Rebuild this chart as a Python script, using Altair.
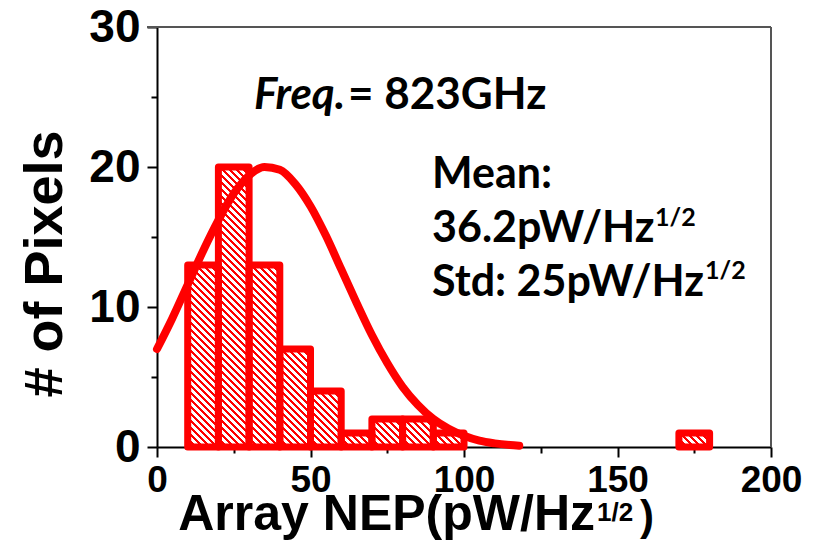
import altair as alt
import pandas as pd

# ---- data ----
bin_start = [10, 20, 30, 40, 50, 60, 70, 80, 90, 170]
bin_end = [20, 30, 40, 50, 60, 70, 80, 90, 100, 180]
counts = [13, 20, 13, 7, 4, 1, 2, 2, 1, 1]

fit_x = [0, 5, 10, 15, 20, 25, 30, 35, 40, 45, 50, 55, 60, 65, 70, 75, 80,
         85, 90, 95, 100, 105, 110, 115, 118]
fit_y = [7.0, 9.2, 11.6, 14.0, 16.2, 18.1, 19.4, 20.0, 19.8, 18.8, 17.2,
         15.1, 12.7, 10.3, 8.0, 6.0, 4.3, 3.0, 2.0, 1.3, 0.8, 0.45, 0.26,
         0.14, 0.09]

x_ticks = [0, 25, 50, 75, 100, 125, 150, 175, 200]
y_ticks = [0, 5, 10, 15, 20, 25, 30]

# ---- layout ----
W, H = 614, 420
X_DOM, Y_DOM = [0, 200], [0, 30]
RED = "#ff0000"
PL, PT = 149, 19  # plot origin on page = (8+PL, 8+PT) = (157, 27)

bars = pd.DataFrame({"x": bin_start, "x2": bin_end, "y": counts})
rows = []
for s, e, c in zip(bin_start, bin_end, counts):
    for j in range(c):
        rows.append({"x": s, "x2": e, "y": j, "y2": j + 1})
seg = pd.DataFrame(rows)
fit = pd.DataFrame({"x": fit_x, "y": fit_y})

# hatch gradient (diagonal stripes), one unit cell = one bin wide, one count high
cw = W * 10 / (X_DOM[1] - X_DOM[0])
ch = H / (Y_DOM[1] - Y_DOM[0])
D = cw + ch
kk = D / (cw * cw + ch * ch)
period = 7.0
red_frac = 0.42
stops = []
p = 0.0
while p < D:
    a = p / D
    b = min((p + period * red_frac) / D, 1.0)
    c2 = min((p + period) / D, 1.0)
    stops += [{"offset": a, "color": RED}, {"offset": b, "color": RED},
              {"offset": b, "color": "#ffffff"}, {"offset": c2, "color": "#ffffff"}]
    p += period
hatch_fill = {"gradient": "linear", "x1": 0, "y1": 1,
              "x2": kk * cw, "y2": 1 - kk * ch, "stops": stops}

xscale = alt.Scale(domain=X_DOM, nice=False, zero=False)
yscale = alt.Scale(domain=Y_DOM, nice=False, zero=False)

xaxis = alt.Axis(
    values=x_ticks, title=None, grid=False,
    labelExpr="datum.value % 50 === 0 ? datum.label : ''",
    tickSize={"condition": {"test": "datum.value % 50 === 0", "value": 10}, "value": 6},
    tickColor="black", tickWidth=2, domainColor="black", domainWidth=2,
    labelFont="Liberation Sans", labelFontWeight="bold", labelFontSize=37,
    labelColor="black", labelPadding=5, labelOverlap=False, labelFlush=False,
    labelBound=False,
)
yaxis = alt.Axis(
    values=y_ticks, title=None, grid=False,
    labelExpr="datum.value % 10 === 0 ? datum.label : ''",
    tickSize={"condition": {"test": "datum.value % 10 === 0", "value": 10}, "value": 6},
    tickColor="black", tickWidth=2, domainColor="black", domainWidth=2,
    labelFont="Liberation Sans", labelFontWeight="bold", labelFontSize=46,
    labelColor="black", labelPadding=7, labelOverlap=False, labelFlush=False,
    labelBound=False,
)


def X(f):
    return alt.X(f, type="quantitative", scale=xscale, axis=xaxis)


def Y(f):
    return alt.Y(f, type="quantitative", scale=yscale, axis=yaxis)


hatch = alt.Chart(seg).mark_rect(fill=hatch_fill).encode(
    x=X("x"), x2="x2", y=Y("y"), y2="y2")

outline = alt.Chart(bars).mark_rect(
    fill="transparent", stroke=RED, strokeWidth=7, strokeJoin="round"
).encode(x=X("x"), x2="x2", y=Y("y"), y2=alt.datum(0))

curve = alt.Chart(fit).mark_line(
    color=RED, strokeWidth=8, strokeCap="round", strokeJoin="round",
    interpolate="monotone"
).encode(x=X("x"), y=Y("y"))

# plot frame (top and right edges)
frame_top = alt.Chart(pd.DataFrame({"k": [0]})).mark_rule(
    color="#555555", strokeWidth=2
).encode(x=alt.value(-10), x2=alt.value(W), y=alt.value(0))
frame_right = alt.Chart(pd.DataFrame({"k": [0]})).mark_rule(
    color="#555555", strokeWidth=2
).encode(x=alt.value(W), y=alt.value(0), y2=alt.value(H))


def label(text, px, py, size, font, style="normal", align="left", angle=0):
    return alt.Chart(pd.DataFrame({"t": [text]})).mark_text(
        align=align, baseline="alphabetic", font=font, fontSize=size,
        fontWeight="bold", fontStyle=style, angle=angle, color="black"
    ).encode(x=alt.value(px - 8 - PL), y=alt.value(py - 8 - PT), text="t:N")


ANN = "Lato"
AX = "Liberation Sans"
texts = [
    label("Freq.", 254, 109, 44, ANN, style="italic"),
    label("= 823GHz", 348, 109, 44, ANN),
    label("Mean:", 432, 188, 43, ANN),
    label("36.2pW/Hz", 432, 242, 43, ANN),
    label("1/2", 655, 226, 25, ANN),
    label("Std: 25pW/Hz", 432, 296, 43, ANN),
    label("1/2", 705, 279, 25, ANN),
    label("Array NEP(pW/Hz", 595, 530, 50, AX, align="right"),
    label("1/2", 597, 521, 26, AX),
    label(")", 640, 530, 42, AX),
    label("# of Pixels", 62, 264, 54, AX, align="center", angle=270),
]

chart = alt.layer(hatch, outline, curve, frame_top, frame_right, *texts).properties(
    width=W, height=H,
    background="white",
    autosize=alt.AutoSizeParams(type="none"),
    padding={"left": PL, "top": PT, "right": 44, "bottom": 100},
).configure_view(strokeWidth=0)

chart.save("out.html", embed_options={"renderer": "svg", "actions": False})
